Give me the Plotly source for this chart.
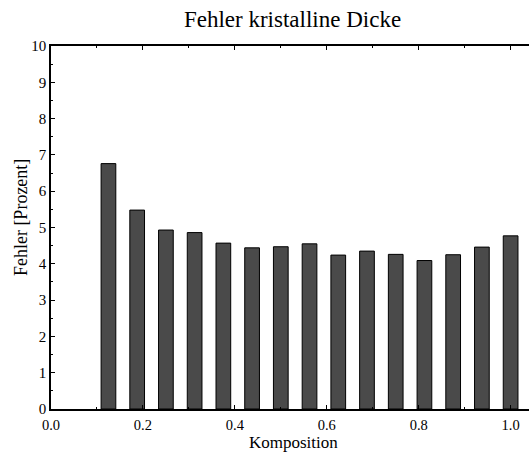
import plotly.graph_objects as go

# Composition values (bar centres) and error in percent
komposition = [0.125, 0.1875, 0.25, 0.3125, 0.375, 0.4375, 0.5, 0.5625,
               0.625, 0.6875, 0.75, 0.8125, 0.875, 0.9375, 1.0]
fehler = [6.76, 5.48, 4.93, 4.86, 4.57, 4.44, 4.47, 4.55,
          4.24, 4.35, 4.26, 4.09, 4.25, 4.46, 4.77]

x_ticks = [0.0, 0.2, 0.4, 0.6, 0.8, 1.0]
y_ticks = list(range(0, 11))

serif = "Liberation Serif"

fig = go.Figure(
    go.Bar(
        x=komposition,
        y=fehler,
        width=0.032,
        marker=dict(color="#4a4a4a", line=dict(color="black", width=1)),
    )
)

fig.update_layout(
    width=529,
    height=454,
    margin=dict(l=51, r=0, t=46, b=45),
    paper_bgcolor="white",
    plot_bgcolor="white",
    showlegend=False,
    font=dict(family=serif, color="black", size=15),
    title=dict(
        text="Fehler kristalline Dicke",
        x=0.553,
        xanchor="center",
        y=0.958,
        yanchor="middle",
        font=dict(family=serif, size=23, color="black"),
    ),
)

fig.update_xaxes(
    range=[0, 1.04],
    tickvals=x_ticks,
    tickformat=".1f",
    showline=True,
    linecolor="black",
    linewidth=1.5,
    mirror="ticks",
    ticks="inside",
    ticklen=4,
    tickcolor="black",
    ticklabelstandoff=2,
    minor=dict(dtick=0.1, tick0=0, ticks="inside", ticklen=2, tickcolor="black"),
    showgrid=False,
    zeroline=False,
    tickfont=dict(family=serif, size=14.5, color="black"),
)

fig.update_yaxes(
    range=[0, 10],
    tickvals=y_ticks,
    showline=True,
    linecolor="black",
    linewidth=1.5,
    mirror=False,
    ticks="inside",
    ticklen=4,
    tickcolor="black",
    minor=dict(dtick=0.5, tick0=0, ticks="inside", ticklen=2, tickcolor="black"),
    showgrid=False,
    zeroline=False,
    tickfont=dict(family=serif, size=15, color="black"),
)

# Axis titles placed as annotations in paper coordinates
fig.add_annotation(
    text="Komposition",
    xref="paper", yref="paper",
    x=0.508, y=-0.0935,
    xanchor="center", yanchor="middle",
    showarrow=False,
    font=dict(family=serif, size=17, color="black"),
)
fig.add_annotation(
    text="Fehler [Prozent]",
    xref="paper", yref="paper",
    x=-0.064, y=0.527,
    xanchor="center", yanchor="middle",
    textangle=-90,
    showarrow=False,
    font=dict(family=serif, size=18, color="black"),
)

fig.write_html("out.html")
